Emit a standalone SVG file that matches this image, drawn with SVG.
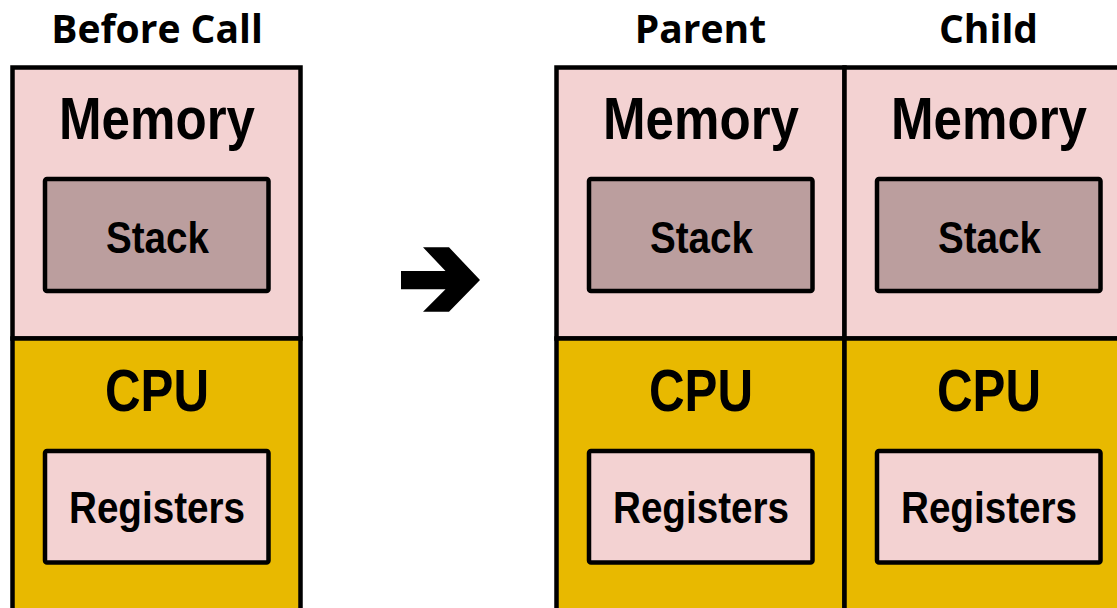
<svg xmlns="http://www.w3.org/2000/svg" width="1117" height="608" viewBox="0 0 1117 608">
  <defs>
    <style>
      .frame { stroke: #000; stroke-width: 4.5; }
      .mem { fill: #F3D2D2; }
      .cpu { fill: #E8B900; }
      .stack { fill: #BB9E9E; }
      .regs { fill: #F3D2D2; }
      .title { font-family: "Open Sans", "Liberation Sans", sans-serif; font-weight: 700; font-size: 39px; fill: #000; text-anchor: middle; }
      .big { font-family: "Liberation Sans", Arial, sans-serif; font-weight: 700; font-size: 60px; fill: #000; text-anchor: middle; }
      .small { font-family: "Liberation Sans", Arial, sans-serif; font-weight: 700; font-size: 44px; fill: #000; text-anchor: middle; }
    </style>
    <!-- one process image: memory with its stack, CPU with its registers -->
    <g id="process">
      <rect class="frame mem" x="12.5" y="67.5" width="288" height="271"/>
      <rect class="frame cpu" x="12.5" y="338.5" width="288" height="290"/>
      <rect class="frame stack" x="45" y="179" width="223.5" height="112" rx="2"/>
      <rect class="frame regs" x="45" y="451" width="223.5" height="111.5" rx="2"/>
      <text class="big" x="157" y="139" textLength="196" lengthAdjust="spacingAndGlyphs">Memory</text>
      <text class="small" x="157.5" y="253" textLength="103" lengthAdjust="spacingAndGlyphs">Stack</text>
      <text class="big" x="157" y="411" textLength="104" lengthAdjust="spacingAndGlyphs">CPU</text>
      <text class="small" x="157" y="523" textLength="176" lengthAdjust="spacingAndGlyphs">Registers</text>
    </g>
  </defs>

  <g id="before-call">
    <text class="title" x="157" y="43">Before Call</text>
    <use href="#process"/>
  </g>

  <g id="parent">
    <text class="title" x="700.5" y="43">Parent</text>
    <use href="#process" transform="translate(544,0)"/>
  </g>

  <g id="child">
    <text class="title" x="988.5" y="43">Child</text>
    <use href="#process" transform="translate(832,0)"/>
  </g>

  <g id="connectors">
    <polygon fill="#000" points="401,271 445.5,271 423,247.3 449,247.3 480,280 449,311.7 423,311.7 445.5,289.3 401,289.3"/>
  </g>
</svg>
